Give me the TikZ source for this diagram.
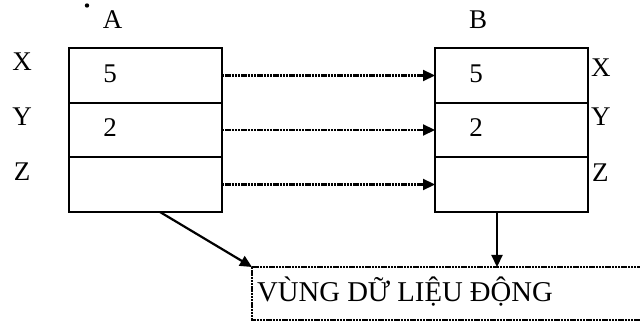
\documentclass[tikz,border=0pt]{standalone}
\usepackage{fontspec}
\setmainfont{Liberation Serif}
\usetikzlibrary{arrows.meta}
\begin{document}
\begin{tikzpicture}[x=1pt,y=-1pt,
  row/.style={draw,line width=1.8pt,minimum width=153pt,minimum height=54.5pt,inner sep=0pt,outer sep=0pt},
  lbl/.style={font=\fontsize{27}{30}\selectfont,inner sep=0pt,anchor=base},
  dotline/.style={line width=2.2pt,dash pattern=on 2.4pt off 0.8pt},
  tip/.style={-{Triangle[length=12pt,width=11pt]}},
  bigtext/.style={font=\fontsize{28.7}{32}\selectfont,inner sep=0pt,anchor=base west}]
\useasboundingbox (0,0) rectangle (640,323);
\clip (0,0) rectangle (640,323);
% box A
\node[row] (A1) at (145.5,75.5) {};
\node[row] (A2) at (145.5,130) {};
\node[row] (A3) at (145.5,184.5) {};
% box B
\node[row] (B1) at (511.5,75.5) {};
\node[row] (B2) at (511.5,130) {};
\node[row] (B3) at (511.5,184.5) {};
% titles
\node[lbl] (tA) at (112.5,29) {A};
\node[lbl] (tB) at (478,29) {B};
\fill (87,5.5) circle (2.2pt);
% left labels
\node[lbl] (xA) at (22,71) {X};
\node[lbl] (yA) at (22,126) {Y};
\node[lbl] (zA) at (22,181) {Z};
% right labels
\node[lbl,anchor=base west] (xB) at (591,77) {X};
\node[lbl,anchor=base west] (yB) at (591,126) {Y};
\node[lbl,anchor=base west] (zB) at (592,182) {Z};
% values
\node[lbl] (vA1) at (110,83) {5};
\node[lbl] (vA2) at (110,137) {2};
\node[lbl] (vB1) at (476,83) {5};
\node[lbl] (vB2) at (476,137) {2};
% dotted arrows
\draw[dotline,tip] (A1.east) -- (B1.west);
\draw[dotline,tip] (A2.east) -- (B2.west);
\draw[dotline,tip] (A3.east) -- (B3.west);
% dynamic area
\coordinate (dTL) at (252,267);
\coordinate (dBR) at (652,320);
\draw[dotline] (dTL) rectangle (dBR);
\node[bigtext] (vung) at (257,301) {VÙNG DỮ LIỆU ĐỘNG};
\coordinate (aS) at (160,212);
\coordinate (bS) at (497,212);
\coordinate (bE) at (497,267);
\draw[line width=2.2pt,tip] (aS) -- (dTL);
\draw[line width=2.2pt,tip] (bS) -- (bE);
\end{tikzpicture}
\end{document}
